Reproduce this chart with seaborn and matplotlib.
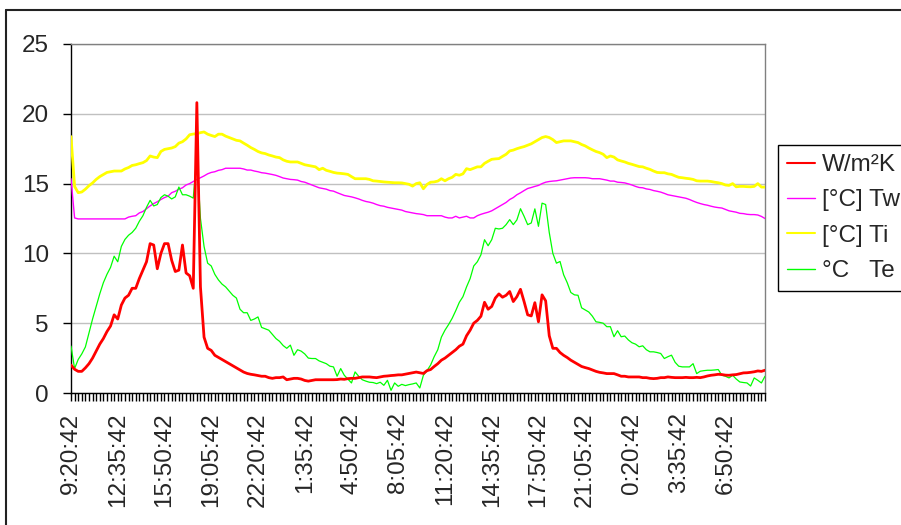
import numpy as np
import pandas as pd
import matplotlib
matplotlib.use("Agg")
import matplotlib.pyplot as plt
from matplotlib.lines import Line2D
from matplotlib.ticker import FixedLocator, MultipleLocator
import seaborn as sns

# ---------------- data (15-minute samples starting 9:20:42) ----------------
w_m2k = [2.0,1.7,1.55,1.55,1.8,2.1,2.5,3.0,3.5,3.9,
         4.4,4.8,5.6,5.3,6.3,6.8,7.0,7.5,7.5,8.2,
         8.8,9.4,10.7,10.6,8.9,10.0,10.7,10.7,9.5,8.7,
         8.8,10.6,8.6,8.4,7.5,20.8,7.6,4.0,3.2,3.05,
         2.7,2.55,2.4,2.25,2.1,1.95,1.8,1.65,1.5,1.4,
         1.34,1.3,1.25,1.2,1.2,1.1,1.05,1.1,1.1,1.15,
         0.95,1.0,1.05,1.05,1.0,0.9,0.85,0.9,0.95,0.95,
         0.95,0.95,0.95,0.95,0.96,1.0,0.98,1.03,1.05,1.05,
         1.1,1.15,1.15,1.15,1.12,1.1,1.15,1.2,1.22,1.25,
         1.27,1.3,1.3,1.35,1.4,1.45,1.5,1.45,1.4,1.6,
         1.68,1.9,2.1,2.35,2.5,2.7,2.9,3.1,3.35,3.5,
         4.1,4.5,5.0,5.2,5.5,6.5,6.0,6.2,6.8,7.1,
         6.86,7.0,7.27,6.55,6.9,7.43,6.55,5.6,5.52,6.47,
         5.1,7.03,6.6,4.1,3.2,3.2,2.9,2.7,2.54,2.35,
         2.2,2.05,1.9,1.82,1.75,1.65,1.55,1.48,1.44,1.39,
         1.39,1.39,1.3,1.2,1.2,1.15,1.15,1.15,1.15,1.1,
         1.1,1.05,1.03,1.05,1.1,1.1,1.15,1.12,1.1,1.1,
         1.1,1.12,1.1,1.1,1.12,1.1,1.15,1.22,1.27,1.3,
         1.34,1.32,1.28,1.27,1.3,1.32,1.38,1.44,1.45,1.48,
         1.52,1.58,1.55,1.63]

tw = [15.35,12.54,12.47,12.47,12.47,12.47,12.47,12.47,12.47,12.47,
      12.47,12.47,12.47,12.47,12.47,12.47,12.6,12.66,12.7,12.9,
      13.0,13.2,13.4,13.57,13.7,13.86,14.0,14.1,14.35,14.45,
      14.6,14.7,14.9,15.0,15.15,15.3,15.42,15.55,15.7,15.8,
      15.85,15.95,16.0,16.1,16.1,16.1,16.1,16.1,16.05,15.97,
      15.97,15.9,15.85,15.78,15.75,15.7,15.65,15.59,15.5,15.4,
      15.35,15.3,15.28,15.25,15.15,15.1,15.0,14.9,14.8,14.7,
      14.65,14.6,14.5,14.46,14.35,14.25,14.15,14.1,14.05,13.98,
      13.9,13.8,13.72,13.67,13.6,13.5,13.42,13.38,13.3,13.25,
      13.2,13.15,13.1,13.0,12.95,12.9,12.85,12.82,12.78,12.7,
      12.7,12.7,12.7,12.7,12.6,12.54,12.54,12.66,12.54,12.6,
      12.66,12.54,12.54,12.7,12.8,12.88,12.95,13.05,13.2,13.35,
      13.5,13.65,13.86,14.0,14.2,14.34,14.5,14.65,14.72,14.8,
      14.87,15.0,15.1,15.15,15.18,15.2,15.25,15.3,15.35,15.4,
      15.42,15.42,15.42,15.42,15.4,15.35,15.35,15.35,15.3,15.25,
      15.18,15.18,15.1,15.08,15.05,14.98,14.9,14.8,14.72,14.7,
      14.62,14.58,14.5,14.45,14.39,14.3,14.2,14.15,14.1,14.05,
      14.0,13.95,13.86,13.75,13.65,13.57,13.5,13.45,13.38,13.32,
      13.28,13.25,13.15,13.05,13.0,12.95,12.87,12.85,12.8,12.78,
      12.78,12.75,12.65,12.5]

ti = [18.37,14.8,14.35,14.4,14.6,14.85,15.05,15.3,15.5,15.65,
      15.8,15.85,15.9,15.9,15.9,16.05,16.15,16.3,16.35,16.43,
      16.5,16.65,16.98,16.9,16.86,17.3,17.45,17.5,17.55,17.65,
      17.9,18.0,18.2,18.5,18.55,18.58,18.65,18.7,18.54,18.45,
      18.37,18.54,18.54,18.4,18.3,18.2,18.1,18.06,17.9,17.75,
      17.58,17.45,17.3,17.2,17.15,17.05,16.98,16.9,16.86,16.7,
      16.6,16.55,16.55,16.55,16.45,16.35,16.3,16.25,16.2,16.0,
      16.1,15.95,15.88,15.8,15.75,15.73,15.7,15.66,15.5,15.35,
      15.35,15.35,15.35,15.3,15.2,15.18,15.15,15.12,15.1,15.08,
      15.06,15.06,15.05,15.0,14.95,14.82,15.0,15.06,14.63,14.94,
      15.1,15.12,15.18,15.35,15.2,15.35,15.45,15.66,15.6,15.7,
      16.07,16.0,16.1,16.2,16.2,16.45,16.6,16.74,16.77,16.79,
      16.95,17.1,17.34,17.4,17.5,17.58,17.65,17.75,17.85,18.0,
      18.15,18.3,18.37,18.3,18.15,17.94,18.0,18.06,18.06,18.06,
      18.0,17.94,17.8,17.7,17.55,17.42,17.3,17.22,17.1,16.86,
      16.98,16.9,16.7,16.62,16.55,16.45,16.38,16.3,16.22,16.2,
      16.1,16.02,15.9,15.8,15.78,15.78,15.7,15.66,15.55,15.45,
      15.42,15.38,15.35,15.3,15.2,15.18,15.18,15.18,15.15,15.1,
      15.06,15.0,14.9,14.87,15.0,14.77,14.8,14.8,14.78,14.77,
      14.8,15.0,14.75,14.75]

te = [3.36,1.75,2.4,2.8,3.3,4.3,5.3,6.2,7.1,7.9,
      8.5,9.0,9.8,9.4,10.5,11.0,11.3,11.5,11.8,12.3,
      12.7,13.3,13.8,13.4,13.5,14.0,14.2,14.1,13.9,14.05,
      14.75,14.2,14.2,14.1,13.96,16.98,12.5,10.5,9.3,9.1,
      8.5,8.1,7.8,7.6,7.3,7.0,6.8,6.0,5.75,5.75,
      5.2,5.3,5.45,4.7,4.6,4.5,4.2,3.9,3.7,3.4,
      3.2,3.43,2.7,3.1,3.0,2.8,2.5,2.47,2.47,2.3,
      2.2,2.1,1.92,1.87,1.2,1.75,1.27,1.0,0.72,1.51,
      1.2,0.95,0.85,0.77,0.75,0.67,0.77,0.55,0.91,0.19,
      0.72,0.48,0.62,0.53,0.6,0.65,0.72,0.36,1.27,1.6,
      2.0,2.6,3.1,4.0,4.5,4.9,5.35,5.9,6.5,6.9,
      7.6,8.2,9.1,9.4,9.9,10.98,10.55,10.98,11.8,11.75,
      11.8,12.06,12.42,12.06,12.4,13.2,12.66,12.06,12.18,13.19,
      11.94,13.6,13.5,11.5,10.0,9.3,9.42,8.47,7.9,7.2,
      7.03,7.0,6.1,5.95,5.8,5.5,5.1,5.06,5.0,4.75,
      4.75,4.03,4.46,4.03,4.08,3.8,3.6,3.5,3.31,3.38,
      3.1,2.95,2.95,2.9,2.83,2.47,2.6,2.71,2.2,1.92,
      1.87,1.87,1.87,2.1,1.39,1.56,1.6,1.63,1.63,1.65,
      1.68,1.27,1.2,1.08,1.27,1.0,0.79,0.75,0.72,0.5,
      1.08,0.91,0.72,1.2]

tick_labels = ["9:20:42", "12:35:42", "15:50:42", "19:05:42", "22:20:42",
               "1:35:42", "4:50:42", "8:05:42", "11:20:42", "14:35:42",
               "17:50:42", "21:05:42", "0:20:42", "3:35:42", "6:50:42"]
label_every = 13  # one label every 13 samples (3 h 15 min)

series_names = ["W/m²K", "[°C] Tw", "[°C] Ti", "°C   Te"]
series_colors = ["#FF0000", "#FF00FF", "#FFFF00", "#00FF00"]
series_widths = [2.0, 1.0, 2.0, 0.9]
series_z = [6, 4, 3, 5]

FS = 17.5

# ---------------- figure ----------------
sns.set_theme(style="white")
plt.rcParams["font.family"] = ["Liberation Sans", "DejaVu Sans"]

fig = plt.figure(figsize=(9.01, 5.25), dpi=100)
ax = fig.add_axes([71 / 901, 1 - 393 / 525, (765 - 71) / 901, (393 - 44) / 525])

n = len(w_m2k)
idx = np.arange(n)
df = pd.DataFrame({"idx": idx, series_names[0]: w_m2k, series_names[1]: tw,
                   series_names[2]: ti, series_names[3]: te})

handles = []
for name, col, lw, z in zip(series_names, series_colors, series_widths, series_z):
    sns.lineplot(data=df, x="idx", y=name, ax=ax, color=col, linewidth=lw,
                 zorder=z, legend=False)
    handles.append(Line2D([0], [0], color=col, linewidth=1.5 if lw > 1.5 else 1.0))

ax.set_xlim(0, n - 1)
ax.set_ylim(0, 25)
ax.set_xlabel("")
ax.set_ylabel("")

# y axis
ax.set_yticks([0, 5, 10, 15, 20, 25])
ax.set_yticklabels(["0", "5", "10", "15", "20", "25"])
ax.yaxis.grid(True, color="#c0c0c0", linewidth=1.0)
ax.xaxis.grid(False)
ax.tick_params(axis="y", direction="out", length=6, width=1, color="black",
               labelsize=FS, pad=10, left=True)

# x axis: tick at every sample, label every 13th
major_pos = [i * label_every for i in range(len(tick_labels))]
ax.xaxis.set_major_locator(FixedLocator(major_pos))
ax.set_xticklabels(tick_labels, rotation=90, fontsize=FS)
ax.xaxis.set_minor_locator(MultipleLocator(1))
ax.tick_params(axis="x", which="both", direction="out", length=6, width=1,
               color="black", bottom=True)
ax.tick_params(axis="x", which="major", pad=8)

for side in ["left", "bottom"]:
    ax.spines[side].set_color("black")
    ax.spines[side].set_linewidth(1.0)
for side in ["top", "right"]:
    ax.spines[side].set_color("#808080")
    ax.spines[side].set_linewidth(1.0)
ax.set_axisbelow(True)

# legend
leg = fig.legend(handles, series_names, loc="upper left",
                 bbox_to_anchor=(778 / 901, 1 - 145 / 525),
                 bbox_transform=fig.transFigure, frameon=True, fancybox=False,
                 framealpha=1, edgecolor="black", fontsize=FS, handlelength=1.15,
                 handletextpad=0.3, labelspacing=0.55, borderpad=0.37,
                 borderaxespad=0)
leg.get_frame().set_linewidth(1.0)

# outer chart border (continues past the right and bottom edges)
fig.add_artist(Line2D([6 / 901, 1.01], [1 - 10 / 525, 1 - 10 / 525],
                      transform=fig.transFigure, color="#222222", linewidth=1.5))
fig.add_artist(Line2D([6 / 901, 6 / 901], [1 - 10 / 525, -0.01],
                      transform=fig.transFigure, color="#222222", linewidth=1.5))

fig.savefig("out.png", dpi=100)
